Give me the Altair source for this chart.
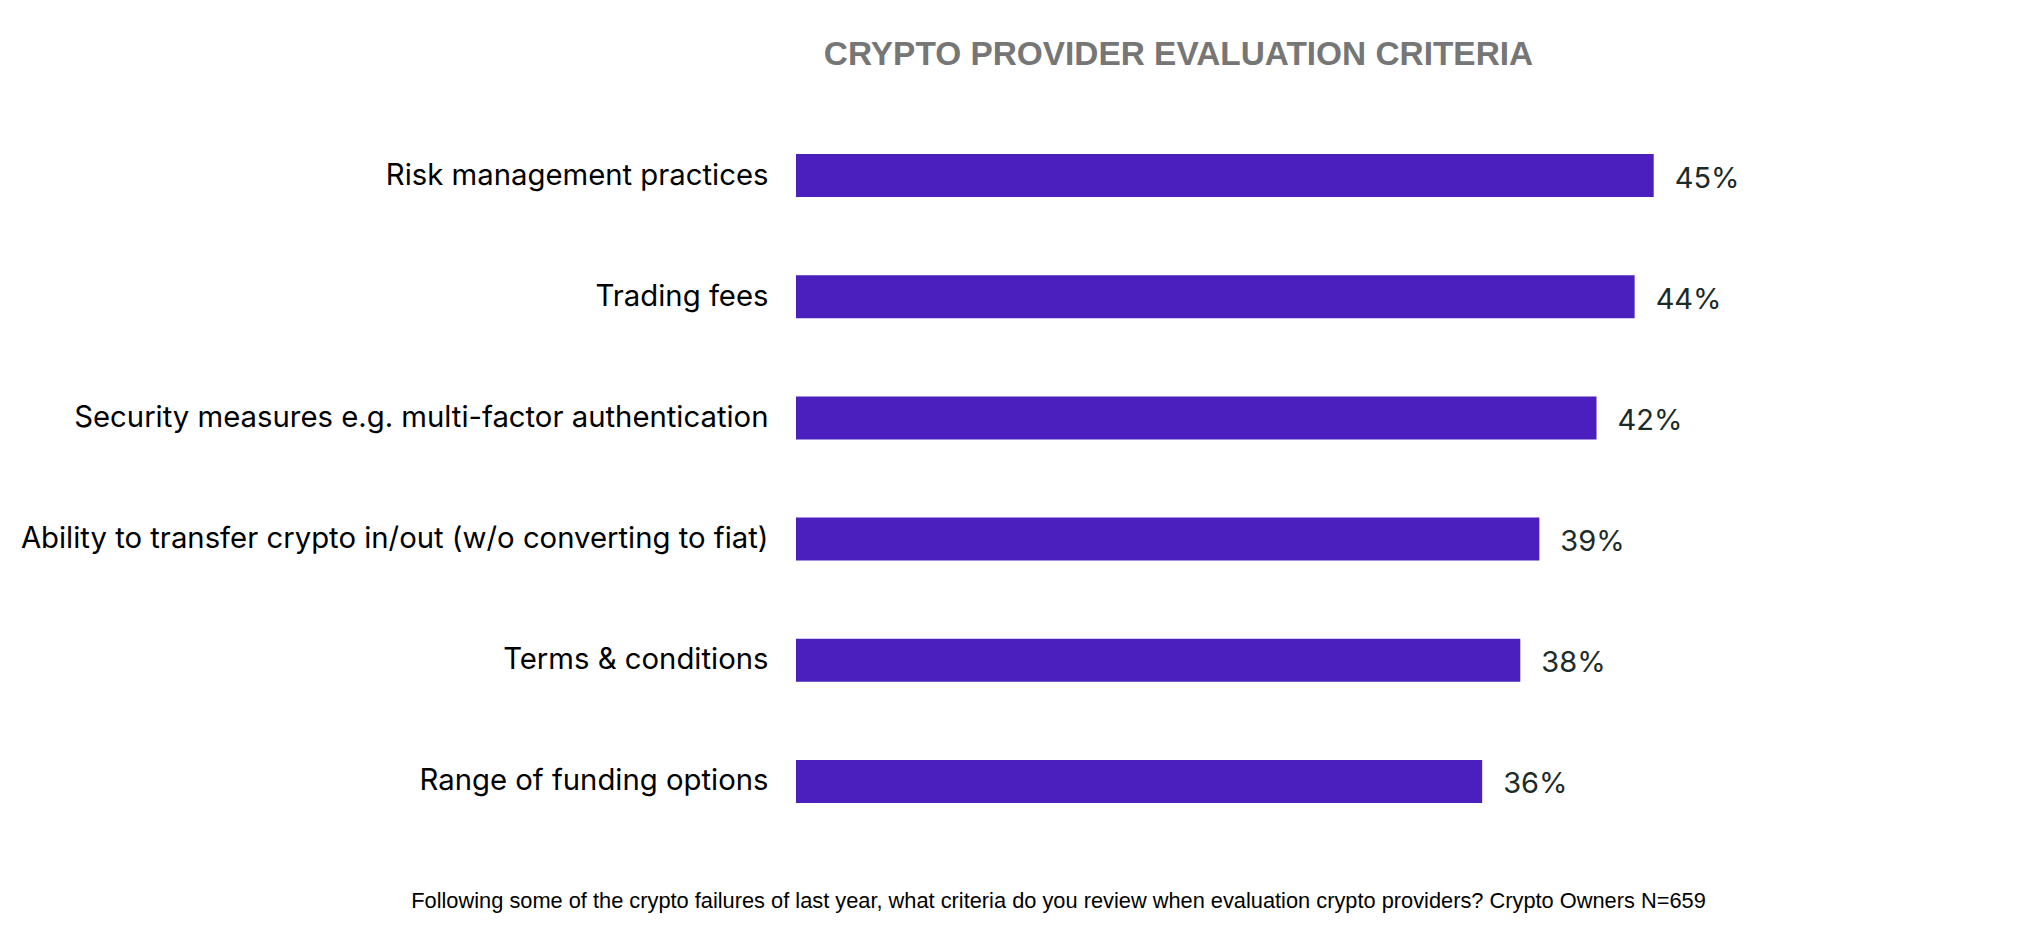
import altair as alt
import pandas as pd

categories = [
    "Risk management practices",
    "Trading fees",
    "Security measures e.g. multi-factor authentication",
    "Ability to transfer crypto in/out (w/o converting to fiat)",
    "Terms & conditions",
    "Range of funding options",
]
values = [45, 44, 42, 39, 38, 36]

title_text = "CRYPTO PROVIDER EVALUATION CRITERIA"
footnote = ("Following some of the crypto failures of last year, what criteria do you review "
            "when evaluation crypto providers? Crypto Owners N=659")

df = pd.DataFrame({"criterion": categories, "value": values})

FONT = "Liberation Sans"
LFONT = "Inter"
W = 953
H = 727

base = alt.Chart(df).encode(
    y=alt.Y(
        "criterion:N",
        sort=categories,
        scale=alt.Scale(paddingInner=0.645, paddingOuter=0.3225),
        axis=alt.Axis(
            title=None, ticks=False, domain=False, labelPadding=28,
            labelFontSize=29.3, labelColor="#000000", labelFont=LFONT, labelLimit=0,
        ),
    ),
    x=alt.X(
        "value:Q",
        scale=alt.Scale(domain=[0, 50]),
        axis=alt.Axis(
            labels=False, ticks=False, domain=False, grid=False,
            title=footnote, titleFont=FONT, titleFontSize=21.8, titleFontWeight="normal",
            titleColor="#000000", titleX=262, titleY=58, titleAlign="center",
            titleBaseline="middle",
        ),
    ),
)

bars = base.mark_bar(color="#4B1FBD")

labels = base.mark_text(
    align="left", baseline="middle", dx=21, dy=3, fontSize=29, font=LFONT, color="#1B2B28"
).transform_calculate(label="datum.value + '%'").encode(text="label:N")

chart = (
    alt.layer(bars, labels)
    .properties(
        width=W,
        height=H,
        title=alt.TitleParams(
            title_text, font=FONT, fontSize=33.4, fontWeight="bold", color="#767676",
            anchor="middle", dx=-94, offset=43,
        ),
        autosize=alt.AutoSizeParams(type="none"),
        padding={"left": 788, "top": 107, "right": 100, "bottom": 90},
    )
    .configure_view(stroke=None)
)

chart.save("out.html", embed_options={"renderer": "svg", "actions": False})
